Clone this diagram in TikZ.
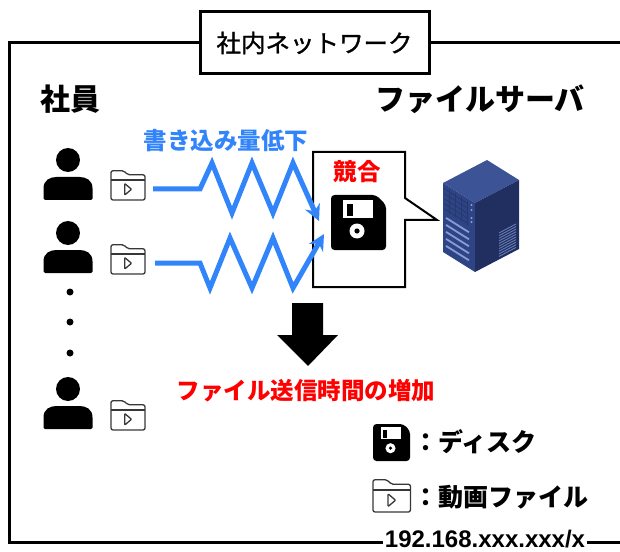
\documentclass[tikz,border=0pt]{standalone}
\usepackage{fontspec}
\setmainfont{Noto Sans CJK JP}
\newfontfamily\titlefont[FakeBold=1.2]{Noto Sans CJK JP}
\newfontfamily\ipfont{Liberation Sans}
\usetikzlibrary{arrows.meta}

\definecolor{netblue}{RGB}{50,132,250}
\definecolor{alertred}{RGB}{255,0,0}
\definecolor{srvtop}{RGB}{60,84,150}
\definecolor{srvleft}{RGB}{47,68,132}
\definecolor{srvright}{RGB}{32,46,96}
\definecolor{srvgrid}{RGB}{38,56,112}
\definecolor{srvlight}{RGB}{135,156,218}
\definecolor{icongray}{RGB}{55,55,55}

\newcommand{\fsz}[1]{\fontsize{#1bp}{#1bp}\selectfont}

\tikzset{
  % person silhouette, origin at the head centre
  person/.pic={
    \fill (0,0) circle[radius=12];
    \fill[rounded corners=1.5bp] (-24.5,40) -- (-24.5,30)
      .. controls (-24.5,20) and (-18,17) .. (-10,17) -- (10,17)
      .. controls (18,17) and (24.5,20) .. (24.5,30) -- (24.5,40) -- cycle;
  },
  % video folder icon, origin at the top left corner (34 x 30)
  folder/.pic={
    \begin{scope}[icongray, line width=1.3bp, line join=round]
      \draw[rounded corners=2bp] (0,30) -- (0,0.7) -- (13,0.7) -- (16.5,4.8)
        -- (34,4.8) -- (34,30) -- cycle;
      \draw (0,10) -- (34,10);
      \draw[rounded corners=0.8bp] (13.7,13.5) -- (20.5,19.3) -- (13.7,25) -- cycle;
    \end{scope}
  },
  % floppy disk icon, origin at the top left corner (55 x 55)
  floppy/.pic={
    \fill[rounded corners=3.5bp] (0,0) -- (45,0) -- (55,10) -- (55,55) -- (0,55) -- cycle;
    \fill[white] (12,5) rectangle (42,23);
    \fill (15.5,9) rectangle (21.5,21);
    \fill[white] (26,36) circle[radius=7.5];
    \fill (26,36) circle[radius=2.6];
  },
  title/.style={font=\titlefont\fsz{24.5}, draw, line width=3bp, fill=white,
    minimum width=229bp, minimum height=62bp, inner sep=0pt},
  heading/.style={font=\fsz{30}\bfseries, inner sep=0pt},
  label/.style={font=\fsz{23.5}\bfseries, inner sep=0pt},
  legend/.style={font=\fsz{25}\bfseries, inner sep=0pt, anchor=west},
  frame/.style={line width=3bp},
  flow/.style={netblue, line width=5bp, line join=miter,
    -{Stealth[length=16bp,width=16bp]}},
}

\begin{document}
\begin{tikzpicture}[x=1bp,y=-1bp]
\useasboundingbox (0,0) rectangle (620,552);

% network frame with its title and address
\node[title] (net) at (314.5,43) {社内ネットワーク};
\node[font=\ipfont\fsz{24}\bfseries, inner xsep=2bp, inner ysep=0pt] (ip) at (485,539.5) {192.168.xxx.xxx/x};
\draw[frame] (net.west) -- (9,43) -- (9,542) -- (ip.west |- 0,542);
\draw[frame] (net.east) -- (620,43);
\draw[frame] (ip.east |- 0,542) -- (620,542);

% headings
\node[heading] (staff) at (70,99) {社員};
\node[heading] (server) at (480,99) {ファイルサーバ};

% employees with their video files
\pic (p1) at (68,160) {person};
\pic (p2) at (68,233) {person};
\pic (p3) at (68,389) {person};
\foreach \y in {292,322,353}
  \fill (70,\y) circle[radius=3.5];
\pic (f1) at (111,170) {folder};
\pic (f2) at (111,244) {folder};
\pic (f3) at (111,400) {folder};

% callout with the contended disk
\draw[line width=2bp, fill=white, line join=miter] (313,152) -- (405,152) -- (405,198)
  -- (437,220) -- (405,220) -- (405,287) -- (313,287) -- cycle;
\node[label, text=alertred] (clash) at (357,172) {競合};
\pic (disk) at (331,195) {floppy};

% slowed writes
\node[label, text=netblue] (slow) at (226,141) {書き込み量低下};
\coordinate (s1) at (153,189);
\coordinate (e1) at (319,221);
\coordinate (s2) at (155,263);
\coordinate (e2) at (324,234);
\draw[flow] (s1) -- (200,189) -- (212,163) -- (232,213) -- (252,163)
  -- (273,213) -- (293,163) -- (e1);
\draw[flow] (s2) -- (200,263) -- (210,288) -- (230,238) -- (252,288)
  -- (273,238) -- (293,288) -- (e2);

% file server
\fill[srvtop] (487,160) -- (519,180) -- (475,203) -- (443,183) -- cycle;
\fill[srvleft] (443,183) -- (475,203) -- (475,272) -- (443,252) -- cycle;
\fill[srvright] (475,203) -- (519,180) -- (519,249) -- (475,272) -- cycle;
\begin{scope}[srvgrid, line width=0.8bp]
  \foreach \v in {5,10,15,20,25}
    \draw (444,183+0.6+\v) -- (468,183+15.6+\v);
  \foreach \x in {449,455,461,467}
    \draw (\x,{183+(\x-443)*0.625+3}) -- (\x,{183+(\x-443)*0.625+27});
\end{scope}
\foreach \v in {4.5,9.5,17.5,21.5}
  \fill[srvlight] (471.5,200.5+\v) circle[radius=1.1];
\foreach \v in {33,40,47,54,61}
  \draw[srvlight, line width=1.8bp] (446,183+1.9+\v) -- (469,183+16.3+\v);
\foreach \k in {0,...,9}
  \draw[srvlight!70!srvright, line width=0.9bp] (499,233+2.6*\k) -- (516,224+2.6*\k);

% consequence
\fill (292,303) -- (323,303) -- (323,335) -- (338,335) -- (308,366) -- (277,335) -- (292,335) -- cycle;
\node[label, text=alertred] (delay) at (306,391) {ファイル送信時間の増加};

% legend
\pic[scale=0.673] (ldisk) at (373,424) {floppy};
\node[legend] (ldisktext) at (413,442) {：ディスク};
\pic[scale=1.1] (lfile) at (373,479) {folder};
\node[legend] (lfiletext) at (413,497) {：動画ファイル};
\end{tikzpicture}
\end{document}
